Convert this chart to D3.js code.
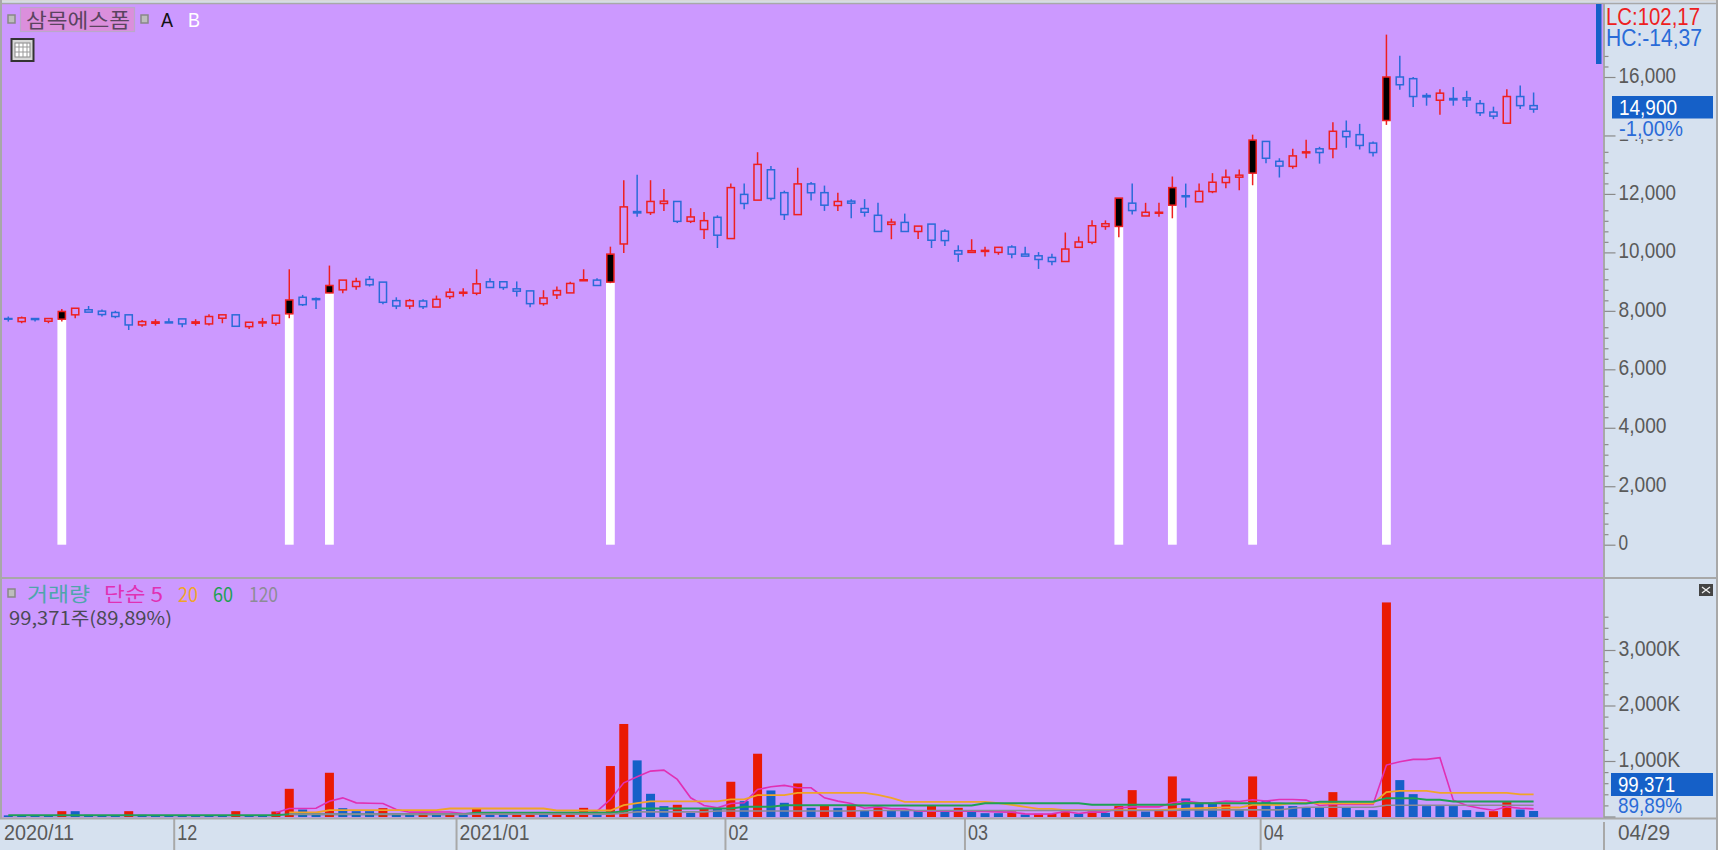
<!DOCTYPE html>
<html><head><meta charset="utf-8">
<script src="https://cdn.jsdelivr.net/npm/d3@7"></script>
<style>
html,body{margin:0;padding:0;background:#D6E1EF;overflow:hidden}
svg{display:block}
text{font-family:"Liberation Sans",Arial,sans-serif}
.ko{font-family:"Noto Sans CJK KR","Liberation Sans",sans-serif}
</style></head><body><svg id="c" width="1718" height="850"></svg>
<script>
const opens=[7737,7633,7737,7645,7714,7864,8037,7990,7944,7864,7518,7576,7622,7725,7576,7553,7748,7864,7460,7587,7576,7898,8464,8418,8614,8718,8833,9077,8983,8349,8165,8338,8130,8488,8603,8603,8995,8995,8753,8683,8246,8545,8614,9029,9052,8983,10288,11396,11362,11673,11742,11062,10784,11200,10473,11984,11788,12827,12043,11292,12343,12043,11604,11753,11500,11269,10957,11026,10715,10968,10726,10058,9999,10033,9999,10185,9941,9883,9826,9688,10173,10346,10888,10888,11684,11246,11339,11615,11938,11730,12077,12389,12573,12711,13796,13116,12942,13404,13543,13543,14143,14028,13739,14512,16000,15943,15366,15205,15263,15286,15090,14800,14420,15332,15021];
const highs=[7806,7806,7737,7737,8060,8089,8165,8048,8002,7864,7691,7714,7748,7725,7714,7887,7864,7864,7610,7760,7852,9422,8545,8453,9549,9052,9134,9192,8983,8464,8407,8395,8522,8776,8776,9422,9111,8995,9006,8683,8706,8833,8995,9422,9111,10196,12469,12654,12469,12170,11742,11511,11385,11269,12354,12354,13427,12953,12112,12896,12412,12285,12043,11822,11822,11696,11154,11327,10899,10968,10795,10242,10450,10196,10173,10242,10196,10010,9953,10680,10542,11096,11096,11857,12354,11696,11696,12596,12354,12354,12711,12838,12838,14028,13796,13220,13543,13854,13612,14455,14512,14397,13796,17450,16725,16000,15447,15585,15655,15528,15217,14985,15585,15712,15470];
const lows=[7633,7576,7633,7576,7633,7748,7956,7806,7748,7345,7460,7495,7587,7437,7495,7495,7576,7472,7380,7449,7495,7748,8165,8060,8603,8603,8718,8833,8222,8060,8060,8060,8130,8407,8488,8534,8799,8718,8488,8119,8176,8407,8614,9029,8868,8948,9976,11223,11281,11419,11003,11003,10461,10150,10473,11477,11788,11776,11108,11292,11776,11419,11419,11166,11223,10715,10450,10715,10461,10150,10219,9676,9999,9860,9918,9803,9872,9434,9561,9688,10173,10277,10772,10519,11292,11246,11223,11166,11534,11730,12025,12193,12124,12297,13047,12562,12861,13220,13036,13220,13577,13520,13278,14362,15562,14973,15019,14708,15019,14973,14662,14558,14420,14904,14777];
const closes=[7714,7760,7702,7737,7979,8089,7956,7875,7806,7518,7633,7622,7587,7553,7622,7806,7864,7472,7610,7622,7852,8372,8211,8384,8868,9052,9006,8891,8292,8165,8349,8142,8395,8637,8637,8925,8799,8799,8672,8246,8441,8695,8937,9064,8868,9941,11557,11350,11742,11753,11062,11212,11085,10588,12216,11673,13011,11846,11292,12343,12041,11615,11742,11684,11373,10715,11037,10715,10899,10415,10404,9941,10058,10069,10173,9941,9872,9757,9688,10115,10357,10911,10980,11857,11431,11373,11373,12216,11903,12089,12400,12573,12642,13842,13220,12953,13301,13439,13416,14143,13957,13658,13416,16000,15735,15332,15320,15447,15217,15217,14777,14662,15332,15021,14900];
const volumes=[20,25,20,25,96,96,30,25,25,96,30,25,25,25,25,25,25,96,25,25,90,499,126,54,788,150,96,96,150,48,48,66,36,36,36,138,36,36,36,36,36,36,36,156,54,909,1667,1011,409,187,211,66,138,138,626,277,1131,469,247,596,156,199,156,199,108,174,108,108,108,199,108,156,108,60,60,90,36,48,48,90,48,90,66,187,475,90,108,722,325,235,235,217,126,722,289,187,187,156,156,439,156,114,114,3857,656,403,187,187,187,114,84,96,259,126,99.371];
const volumeRising=[0,0,0,0,1,0,0,0,0,1,0,0,0,0,0,0,0,1,0,0,1,1,0,0,1,0,0,0,1,0,0,1,0,1,0,1,0,0,1,1,0,1,1,1,0,1,1,0,0,0,1,0,1,0,1,0,1,0,0,1,0,1,0,1,0,1,0,0,0,1,0,1,0,0,0,1,0,1,1,1,0,1,0,1,1,0,1,1,0,0,0,1,0,1,0,0,0,0,0,1,0,0,0,1,0,0,0,0,0,0,0,1,1,0,0];
const N=null;
const ma5=[N,N,N,N,N,N,N,N,N,N,N,N,N,N,N,N,N,N,N,N,66,144,144,150,276,336,246,240,234,126,78,78,80,80,54,54,54,54,54,54,54,54,54,54,96,306,606,716,818,836,668,337,199,156,235,247,487,535,560,517,517,337,277,235,150,174,138,138,96,96,96,96,96,90,84,78,48,42,48,90,54,84,78,156,174,174,174,247,277,247,247,277,271,301,277,307,307,295,199,217,217,217,217,927,987,1029,1029,1059,295,199,150,114,174,150,138];
const ma20=[N,N,N,N,N,N,N,N,N,N,N,N,N,N,N,N,N,N,N,N,N,72,72,72,114,114,114,114,114,114,114,114,114,144,144,144,144,144,144,144,144,108,108,108,108,108,204,240,271,271,271,271,271,271,307,307,385,385,385,427,427,427,427,427,427,391,337,265,265,265,265,265,265,265,240,210,174,138,138,114,114,114,114,114,114,114,114,130,140,150,155,162,162,210,210,210,247,247,235,235,235,235,235,439,463,463,463,427,427,427,427,427,427,397,397];
const ma60=[24,24,24,24,24,24,24,24,24,24,24,24,24,24,24,24,24,24,24,24,24,42,42,42,42,42,42,42,42,42,42,42,42,42,42,66,66,66,66,66,66,66,66,66,66,66,96,144,144,144,144,144,144,144,144,174,174,174,204,204,204,204,204,204,198,198,198,198,198,198,198,198,198,240,240,240,240,240,240,240,240,210,210,210,210,210,210,210,240,240,240,240,240,240,240,240,235,235,265,265,265,265,265,331,331,331,301,301,271,271,271,271,271,271,271];
const ma120=[N,N,N,N,N,N,N,N,N,N,N,N,N,N,N,N,N,N,N,N,N,42,42,42,42,42,42,42,42,42,42,42,42,42,42,42,42,42,42,42,42,42,42,42,42,42,60,84,84,84,84,84,84,100,100,100,100,100,100,100,100,100,100,100,108,108,108,108,108,108,108,108,108,108,108,108,108,108,108,108,108,108,108,108,108,108,108,108,120,120,120,120,120,120,120,120,150,168,168,168,168,168,168,204,204,204,204,204,204,204,204,204,204,204,204];
const highlighted=[4,21,24,45,83,87,93,103];
const priceTicks=[0,2000,4000,6000,8000,10000,12000,14000,16000];
const volumeTicks=[0,1000,2000,3000];
const monthSlots=[0,12.4,33.5,53.6,71.5,93.6];
const monthLabels=["2020/11","12","2021/01","02","03","04"];
const legendLabels=["단순 5","20","60","120"];

const BG="#CC99FF",AX="#D6E1EF",LINE="#A8A8A8",RED="#EE2020",BLUE="#2A6BD8",VRED="#EA1A04",VBLUE="#1560C8",BADGE="#1560C8",TXT="#5a5a5a";
const svg=d3.select("#c");
const W=1718,H=850,plotR=1604;
svg.append("rect").attr("width",W).attr("height",H).attr("fill",AX);
svg.append("rect").attr("x",2).attr("y",4).attr("width",plotR-2).attr("height",574).attr("fill",BG);
svg.append("rect").attr("x",2).attr("y",579).attr("width",plotR-2).attr("height",239).attr("fill",BG);

const x=d3.scaleLinear().domain([0,114]).range([8.3,1533.6]);
const yP=d3.scaleLinear().domain([0,16000]).range([544.7,77]);
const yV=d3.scaleLinear().domain([0,3000]).range([816.5,650]);

const frame=[[0,0,W,0,"#D8D8D8",3],[0,3.5,W,3.5,LINE,1.5],[1,0,1,818,LINE,2],[0,578,W,578,LINE,2],[0,818.5,W,818.5,LINE,2],[plotR,4,plotR,818,LINE,2],[W-1,0,W-1,850,LINE,2]];
svg.append("g").selectAll("line").data(frame).join("line")
 .attr("x1",d=>d[0]).attr("y1",d=>d[1]).attr("x2",d=>d[2]).attr("y2",d=>d[3]).attr("stroke",d=>d[4]).attr("stroke-width",d=>d[5]);

svg.append("rect").attr("x",1596).attr("y",4).attr("width",5.5).attr("height",60).attr("fill",BADGE);

svg.append("g").selectAll("rect").data(highlighted).join("rect")
 .attr("x",i=>x(i)-4.4).attr("width",8.8)
 .attr("y",i=>yP(opens[i])).attr("height",i=>yP(0)-yP(opens[i])).attr("fill","#fff");

const candles=d3.range(opens.length);
const gc=svg.append("g");
const col=i=>closes[i]>=opens[i]?RED:BLUE;
gc.selectAll("line").data(candles).join("line")
 .attr("x1",i=>x(i)).attr("x2",i=>x(i))
 .attr("y1",i=>yP(highs[i])).attr("y2",i=>yP(lows[i]))
 .attr("stroke",col).attr("stroke-width",1.5);
gc.selectAll("rect").data(candles).join("rect")
 .attr("x",i=>x(i)-3.6).attr("width",7.2)
 .attr("y",i=>yP(Math.max(opens[i],closes[i])))
 .attr("height",i=>Math.abs(yP(opens[i])-yP(closes[i])))
 .attr("fill",i=>highlighted.includes(i)?"#000":BG)
 .attr("stroke",col).attr("stroke-width",1.5);

svg.append("g").selectAll("rect").data(candles).join("rect")
 .attr("x",i=>x(i)-4.5).attr("width",9)
 .attr("y",i=>yV(volumes[i])).attr("height",i=>817-yV(volumes[i]))
 .attr("fill",i=>volumeRising[i]?VRED:VBLUE);

const lineGen=d3.line().defined(d=>d!==null).x((d,i)=>x(i)).y(d=>yV(d));
[[ma5,"#E030B4",1.6],[ma20,"#F0A428",1.8],[ma60,"#1FA055",2],[ma120,"#8C8C96",1.6]].forEach(([a,c,w])=>{
 svg.append("path").attr("d",lineGen(a)).attr("fill","none").attr("stroke",c).attr("stroke-width",w);
});

const FS=22;
function styleAxis(g){g.select(".domain").remove();g.selectAll("line").attr("stroke","#8a8a8a").attr("stroke-width",1.2);
 g.selectAll("text").attr("fill",TXT).attr("font-size",FS).attr("x",14).attr("dy",null).attr("y",-2.3).attr("dominant-baseline","central")
  .each(function(){const s=this.textContent;if(s)d3.select(this).attr("textLength",s.length*9.6+(s.endsWith("K")?4:0)).attr("lengthAdjust","spacingAndGlyphs");});}
const gp=svg.append("g").attr("transform",`translate(${plotR+0.5},0)`).call(d3.axisRight(yP).tickValues(priceTicks).tickSize(11).tickFormat(d3.format(",")));
styleAxis(gp);
const minorP=priceTicks.flatMap(m=>[1,2,3,4].map(k=>m+k*360)).filter(v=>v<16800&&!(v>14000&&v<16000));
const gpm=svg.append("g").attr("transform",`translate(${plotR+0.5},0)`).call(d3.axisRight(yP).tickValues(minorP).tickSize(4).tickFormat(""));
styleAxis(gpm);
const gv=svg.append("g").attr("transform",`translate(${plotR+0.5},0)`).call(d3.axisRight(yV).tickValues(volumeTicks).tickSize(11).tickFormat(d=>d?d3.format(",")(d)+"K":""));
styleAxis(gv);
const minorV=d3.range(200,3800,200).filter(v=>v%1000!==0);
const gvm=svg.append("g").attr("transform",`translate(${plotR+0.5},0)`).call(d3.axisRight(yV).tickValues(minorV).tickSize(4).tickFormat(""));
styleAxis(gvm);

function T(t,xx,yy,fill,size,cls,len){const s=svg.append("text").text(t).attr("x",xx).attr("y",yy).attr("fill",fill).attr("font-size",size).attr("dominant-baseline","central");
 if(cls)s.attr("class",cls); if(len)s.attr("textLength",len).attr("lengthAdjust","spacingAndGlyphs");return s;}

svg.append("rect").attr("x",1616).attr("y",119).attr("width",98).attr("height",20.5).attr("fill",AX);
svg.append("rect").attr("x",1612).attr("y",96).attr("width",101).attr("height",22.5).attr("fill",BADGE);
T(d3.format(",")(closes[114]),1619,107,"#fff",FS,null,58);
T("-1,00%",1619,128,BLUE,FS,null,64);
T("LC:102,17",1606,17,RED,23,null,94);
T("HC:-14,37",1606,38,BLUE,23,null,96);

svg.append("rect").attr("x",1611).attr("y",773).attr("width",102).attr("height",23).attr("fill",BADGE);
T("99,371",1618,784.5,"#fff",FS,null,57);
T("89,89%",1618,805,BLUE,FS,null,64);

svg.append("rect").attr("x",1699).attr("y",584).attr("width",14).attr("height",12).attr("fill","#444");
svg.append("path").attr("d","M1702 587l8 6M1710 587l-8 6").attr("stroke","#eee").attr("stroke-width",1.3);

svg.append("g").selectAll("line").data(monthSlots.slice(1)).join("line")
 .attr("x1",d=>x(d)).attr("x2",d=>x(d)).attr("y1",819).attr("y2",850).attr("stroke",LINE).attr("stroke-width",2);
monthLabels.forEach((t,i)=>T(t,i===0?4:x(monthSlots[i])+3,832,TXT,FS,null,t.length*10));
svg.append("line").attr("x1",plotR).attr("x2",plotR).attr("y1",822).attr("y2",850).attr("stroke",LINE).attr("stroke-width",2);
T("04/29",1618,832,TXT,FS,null,52);

function icon(xx,yy){svg.append("rect").attr("x",xx).attr("y",yy).attr("width",7).attr("height",8).attr("fill","#BDBDBD").attr("stroke","#888").attr("stroke-width",1.5);}
icon(8,15);icon(141,15);icon(8,589);
svg.append("rect").attr("x",20.5).attr("y",7.5).attr("width",114).attr("height",24).attr("fill","#DB8FDC").attr("stroke","#BBA7C9").attr("stroke-width",1.2);
T("삼목에스폼",26,19,"#5A4460",20,"ko",104);
T("A",161,19,"#111",21,null,12);
T("B",188,19,"#fff",21,null,12);
svg.append("rect").attr("x",11.5).attr("y",39).attr("width",22).attr("height",22).attr("fill","#D8D8D8").attr("stroke","#333").attr("stroke-width",2);
svg.append("rect").attr("x",15).attr("y",43).attr("width",15).attr("height",14).attr("fill","#fff").attr("stroke","#888");
svg.append("path").attr("d","M19 43v14M23 43v14M27 43v14M15 47h15M15 52h15").attr("stroke","#999").attr("fill","none");

T("거래량",27,593,"#4FA5AC",20,"ko",63);
const legendX=[104,178,213,249],legendLen=[59,20,20,29],legendCol=["#E030B4","#F0A428","#1FA055","#8C8C96"];
legendLabels.forEach((t,i)=>T(t,legendX[i],593,legendCol[i],20,"ko",legendLen[i]));
T("99,371주(89,89%)",9,617,"#4A4A55",18,"ko",163);
</script></body></html>
